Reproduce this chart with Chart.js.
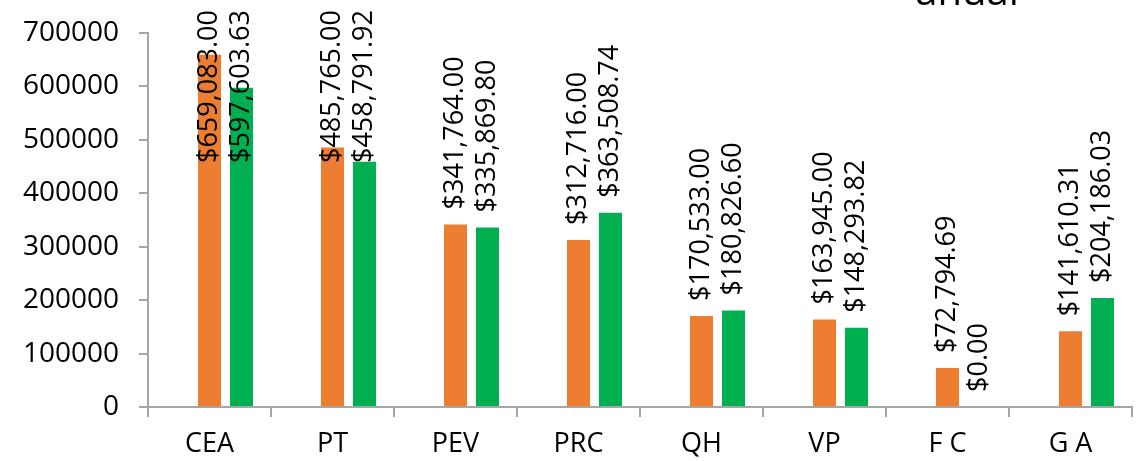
<!DOCTYPE html>
<html>
<head>
    <title>Gasto anual</title>
    <script src="https://cdn.jsdelivr.net/npm/chart.js"></script>
    <style>
        body { margin: 0; background: #fff; }
        #wrap { width: 1140px; height: 461px; position: relative; }
    </style>
</head>
<body>
    <div id="wrap">
        <canvas id="gastoChart"></canvas>
    </div>
    <script>
        const categories = ['CEA', 'PT', 'PEV', 'PRC', 'QH', 'VP', 'F C', 'G A'];
        const serieVacia = [null, null, null, null, null, null, null, null];
        const serieNaranja = [659083.00, 485765.00, 341764.00, 312716.00, 170533.00, 163945.00, 72794.69, 141610.31];
        const serieVerde = [597603.63, 458791.92, 335869.80, 363508.74, 180826.60, 148293.82, 0.00, 204186.03];
        const yTicks = [0, 100000, 200000, 300000, 400000, 500000, 600000, 700000];
        const tituloVisible = 'anual';

        const fuente = "'Open Sans', sans-serif";
        const formatoDinero = v => '$' + v.toLocaleString('en-US', { minimumFractionDigits: 2, maximumFractionDigits: 2 });

        // etiquetas de datos giradas, encima de cada barra
        const etiquetasPlugin = {
            id: 'etiquetas',
            afterDatasetsDraw(chart) {
                const ctx = chart.ctx;
                ctx.save();
                ctx.font = '27px ' + fuente;
                ctx.fillStyle = '#000';
                ctx.textAlign = 'left';
                ctx.textBaseline = 'middle';
                chart.data.datasets.forEach((ds, i) => {
                    const meta = chart.getDatasetMeta(i);
                    meta.data.forEach((bar, j) => {
                        const v = ds.data[j];
                        if (v === null || v === undefined) return;
                        const txt = formatoDinero(v);
                        const w = ctx.measureText(txt).width;
                        let inicio = bar.y - 15;
                        if (inicio - w < 10) inicio = 10 + w;
                        ctx.save();
                        ctx.translate(bar.x, inicio);
                        ctx.rotate(-Math.PI / 2);
                        ctx.fillText(txt, 0, 0);
                        ctx.restore();
                    });
                });
                ctx.restore();
            }
        };

        // resto del título que queda cortado arriba
        const tituloPlugin = {
            id: 'tituloCortado',
            afterDraw(chart) {
                const ctx = chart.ctx;
                ctx.save();
                ctx.font = '40px ' + fuente;
                ctx.fillStyle = '#000';
                ctx.textAlign = 'center';
                ctx.textBaseline = 'alphabetic';
                ctx.fillText(tituloVisible, 967, 5);
                ctx.restore();
            }
        };

        const ctx = document.getElementById('gastoChart').getContext('2d');
        new Chart(ctx, {
            type: 'bar',
            data: {
                labels: categories,
                datasets: [
                    { label: '', data: serieVacia, backgroundColor: '#5B9BD5' },
                    { label: 'Naranja', data: serieNaranja, backgroundColor: '#ED7D31' },
                    { label: 'Verde', data: serieVerde, backgroundColor: '#00B050' }
                ]
            },
            options: {
                responsive: true,
                maintainAspectRatio: false,
                animation: false,
                categoryPercentage: 0.78,
                barPercentage: 0.72,
                layout: { padding: { top: 33, right: 8, left: 0, bottom: 0 } },
                plugins: {
                    legend: { display: false },
                    tooltip: { enabled: false }
                },
                scales: {
                    x: {
                        grid: { display: true, drawOnChartArea: false, offset: true, tickLength: 10, color: '#A6A6A6', lineWidth: 2 },
                        border: { color: '#A6A6A6', width: 2 },
                        ticks: { color: '#000', font: { size: 27, family: fuente }, padding: 11, maxRotation: 0 },
                        afterFit(scale) { scale.height = 54; }
                    },
                    y: {
                        min: 0,
                        max: 700000,
                        afterBuildTicks(scale) { scale.ticks = yTicks.map(v => ({ value: v })); },
                        grid: { display: true, drawOnChartArea: false, tickLength: 9, color: '#A6A6A6', lineWidth: 2 },
                        border: { color: '#A6A6A6', width: 2 },
                        ticks: { color: '#000', font: { size: 28, family: fuente }, padding: 20, callback: v => String(v) },
                        afterFit(scale) {
                            scale.width = 148;
                            // el padding de los ticks no debe empujar el área hacia abajo
                            scale.paddingTop = 0;
                            scale.paddingBottom = 0;
                        }
                    }
                }
            },
            plugins: [etiquetasPlugin, tituloPlugin]
        });
    </script>
</body>
</html>
